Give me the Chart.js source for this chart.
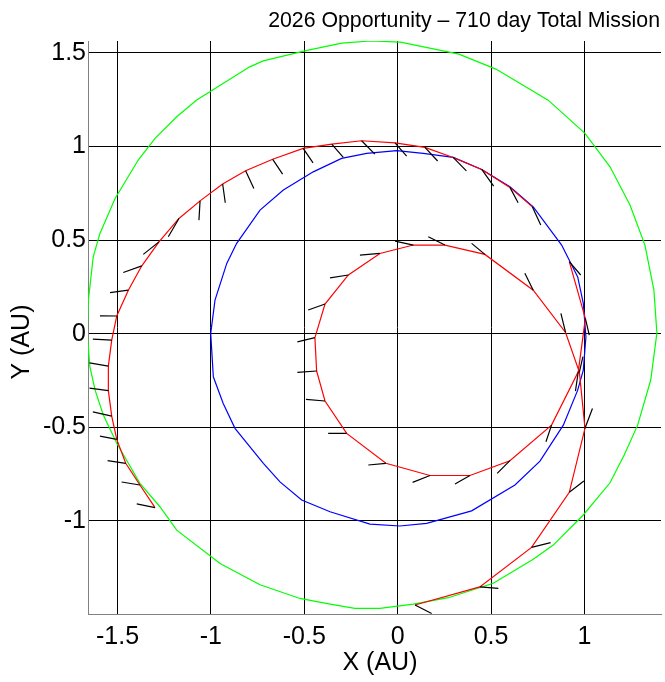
<!DOCTYPE html>
<html><head><meta charset="utf-8">
<script src="https://cdn.jsdelivr.net/npm/chart.js@4.4.1/dist/chart.umd.min.js"></script>
<style>html,body{margin:0;padding:0;background:#fff}#wrap{width:665px;height:682px}</style>
</head><body><div id="wrap"><canvas id="c" width="665" height="682"></canvas></div>
<script>
// ---- axis ticks ----
const xTicks = [-1.5, -1, -0.5, 0, 0.5, 1];
const xTickLabels = ['-1.5', '-1', '-0.5', '0', '0.5', '1'];
const yTicks = [-1, -0.5, 0, 0.5, 1, 1.5];
const yTickLabels = ['-1', '-0.5', '0', '0.5', '1', '1.5'];
const xRange = [-1.658, 1.41];
const yRange = [-1.497, 1.564];
const titleText = '2026 Opportunity \u2013 710 day Total Mission';
const xTitle = 'X (AU)';
const yTitle = 'Y (AU)';

// ---- Mars orbit (green) ----
const marsX = [1.388, 1.372, 1.324, 1.244, 1.137, 1.003, 0.806, 0.526, 0.328, 0.015, -0.143, -0.300, -0.497, -0.720, -0.792, -1.076, -1.183, -1.299, -1.389, -1.513, -1.594, -1.630, -1.656, -1.662, -1.648, -1.620, -1.576, -1.504, -1.442, -1.380, -1.273, -1.183, -0.951, -0.737, -0.523, -0.362, -0.229, -0.095, 0.084, 0.271, 0.512, 0.726, 0.833, 0.994, 1.137, 1.213, 1.285, 1.355, 1.388];
const marsY = [0.004, 0.233, 0.474, 0.688, 0.892, 1.071, 1.248, 1.414, 1.494, 1.558, 1.564, 1.553, 1.511, 1.458, 1.426, 1.249, 1.159, 1.044, 0.928, 0.723, 0.536, 0.411, 0.180, 0.002, -0.176, -0.301, -0.434, -0.585, -0.692, -0.799, -0.924, -1.049, -1.227, -1.341, -1.414, -1.444, -1.467, -1.467, -1.444, -1.410, -1.333, -1.205, -1.129, -0.968, -0.796, -0.648, -0.488, -0.247, 0.004];

// ---- Earth orbit (blue) ----
const earthX = [1.008, 0.994, 0.964, 0.878, 0.726, 0.601, 0.450, 0.298, 0.137, -0.005, -0.166, -0.300, -0.452, -0.612, -0.737, -0.862, -0.915, -0.978, -1.001, -0.987, -0.934, -0.871, -0.719, -0.630, -0.514, -0.362, -0.148, 0.012, 0.155, 0.396, 0.628, 0.762, 0.887, 0.964, 0.994, 1.008];
const earthY = [-0.016, 0.162, 0.304, 0.474, 0.678, 0.785, 0.878, 0.942, 0.964, 0.978, 0.964, 0.937, 0.865, 0.768, 0.661, 0.483, 0.376, 0.180, 0.002, -0.230, -0.372, -0.505, -0.692, -0.791, -0.888, -0.951, -1.017, -1.027, -1.013, -0.946, -0.808, -0.680, -0.488, -0.301, -0.194, -0.016];

// ---- Outbound leg (red): Earth -> Mars ----
const outX = [0.721, 0.601, 0.450, 0.297, 0.146, -0.014, -0.193, -0.353, -0.506, -0.669, -0.814, -0.937, -1.058, -1.171, -1.278, -1.370, -1.442, -1.504, -1.531, -1.549, -1.549, -1.531, -1.504, -1.456, -1.380, -1.299];
const outY = [0.678, 0.782, 0.878, 0.942, 0.996, 1.020, 1.031, 1.013, 0.990, 0.932, 0.871, 0.800, 0.710, 0.616, 0.491, 0.363, 0.233, 0.095, -0.034, -0.173, -0.304, -0.440, -0.564, -0.692, -0.808, -0.929];
// thrust vector tips for outbound leg
const outTipX = [0.766, 0.645, 0.514, 0.368, 0.214, 0.048, -0.122, -0.291, -0.453, -0.616, -0.770, -0.923, -1.064, -1.228, -1.362, -1.469, -1.540, -1.594, -1.632, -1.650, -1.650, -1.632, -1.594, -1.553, -1.478, -1.397];
const outTipY = [0.581, 0.700, 0.789, 0.870, 0.923, 0.949, 0.960, 0.942, 0.913, 0.853, 0.776, 0.700, 0.607, 0.518, 0.424, 0.327, 0.220, 0.096, -0.029, -0.155, -0.290, -0.417, -0.547, -0.678, -0.792, -0.909];

// ---- Return leg (red): Mars -> Earth ----
const retX = [0.093, 0.440, 0.717, 0.919, 1.003, 0.973, 0.899, 0.726, 0.467, 0.253, 0.084, -0.095, -0.264, -0.389, -0.443, -0.434, -0.389, -0.273, -0.063, 0.173, 0.387, 0.601, 0.824, 0.967, 1.005, 0.919];
const retY = [-1.449, -1.352, -1.141, -0.847, -0.505, -0.205, 0.007, 0.233, 0.424, 0.474, 0.474, 0.429, 0.314, 0.159, -0.021, -0.199, -0.359, -0.532, -0.692, -0.757, -0.757, -0.678, -0.488, -0.203, 0.082, 0.385];
const retTipX = [0.182, 0.539, 0.819, 0.997, 1.043, 0.992, 0.874, 0.681, 0.396, 0.164, -0.014, -0.202, -0.362, -0.479, -0.537, -0.537, -0.491, -0.372, -0.157, 0.080, 0.307, 0.533, 0.794, 0.952, 1.026, 0.980];
const retTipY = [-1.494, -1.360, -1.116, -0.787, -0.399, -0.122, 0.109, 0.323, 0.483, 0.518, 0.495, 0.420, 0.299, 0.127, -0.043, -0.206, -0.350, -0.532, -0.701, -0.794, -0.803, -0.746, -0.577, -0.306, -0.007, 0.314];

// ---- helpers to build library datasets ----
const pts = (xs, ys) => xs.map((x, i) => ({x: x, y: ys[i]}));
function vectors(xs, ys, tx, ty) {
  const out = [];
  xs.forEach((x, i) => {
    out.push({x: x, y: ys[i]});
    out.push({x: tx[i], y: ty[i]});
    out.push({x: tx[i], y: null});
  });
  return out;
}
const lineDs = (data, color, order) => ({
  type: 'line', data: data, borderColor: color, backgroundColor: color,
  borderWidth: 1.2, pointRadius: 0, pointHoverRadius: 0, fill: false, tension: 0,
  spanGaps: false, order: order
});

const FONT = 'Liberation Sans, Arial, Helvetica, sans-serif';

// draws the figure title and the axis titles as text
const textPlugin = {
  id: 'matlabText',
  afterDraw(chart) {
    const ctx = chart.ctx, a = chart.chartArea;
    ctx.save();
    ctx.fillStyle = '#000';
    // main title, right end near the plot's right edge
    ctx.font = '21.3px ' + FONT;
    ctx.textBaseline = 'alphabetic';
    ctx.textAlign = 'right';
    ctx.fillText(titleText, a.right - 1, 27);
    // x axis title
    ctx.font = '25px ' + FONT;
    ctx.textAlign = 'center';
    ctx.textBaseline = 'middle';
    ctx.fillText(xTitle, 380, 663);
    // y axis title
    ctx.save();
    ctx.translate(22, 342);
    ctx.rotate(-Math.PI / 2);
    ctx.fillText(yTitle, 0, 0);
    ctx.restore();
    ctx.restore();
  }
};

new Chart(document.getElementById('c'), {
  type: 'line',
  data: {
    datasets: [
      lineDs(vectors(outX, outY, outTipX, outTipY).concat(vectors(retX, retY, retTipX, retTipY)), '#000000', 0),
      lineDs(pts(outX, outY), '#ff0000', 1),
      lineDs(pts(retX, retY), '#ff0000', 1),
      lineDs(pts(earthX, earthY), '#0000ff', 2),
      lineDs(pts(marsX, marsY), '#00ff00', 3)
    ]
  },
  plugins: [textPlugin],
  options: {
    responsive: false,
    animation: false,
    events: [],
    layout: {padding: {left: 0, right: 4, top: 41, bottom: 0}},
    plugins: {
      legend: {display: false},
      tooltip: {enabled: false},
      title: {display: false}
    },
    scales: {
      x: {
        type: 'linear', min: xRange[0], max: xRange[1],
        afterBuildTicks: s => { s.ticks = xTicks.map(v => ({value: v})); },
        afterFit: s => { s.height = 68; },
        ticks: {
          color: '#000', padding: 8, maxRotation: 0, autoSkip: false,
          font: {family: FONT, size: 25},
          callback: (v) => xTickLabels[xTicks.indexOf(v)]
        },
        grid: {color: '#000', lineWidth: 1, drawTicks: false},
        border: {display: true, color: '#808080', width: 1},
        title: {display: false}
      },
      y: {
        type: 'linear', min: yRange[0], max: yRange[1],
        afterBuildTicks: s => { s.ticks = yTicks.map(v => ({value: v})); },
        afterFit: s => { s.width = 88; },
        ticks: {
          color: '#000', padding: 2, autoSkip: false,
          font: {family: FONT, size: 25},
          callback: (v) => yTickLabels[yTicks.indexOf(v)]
        },
        grid: {color: '#000', lineWidth: 1, drawTicks: false},
        border: {display: true, color: '#808080', width: 1},
        title: {display: false}
      }
    }
  }
});
</script>
</body></html>
